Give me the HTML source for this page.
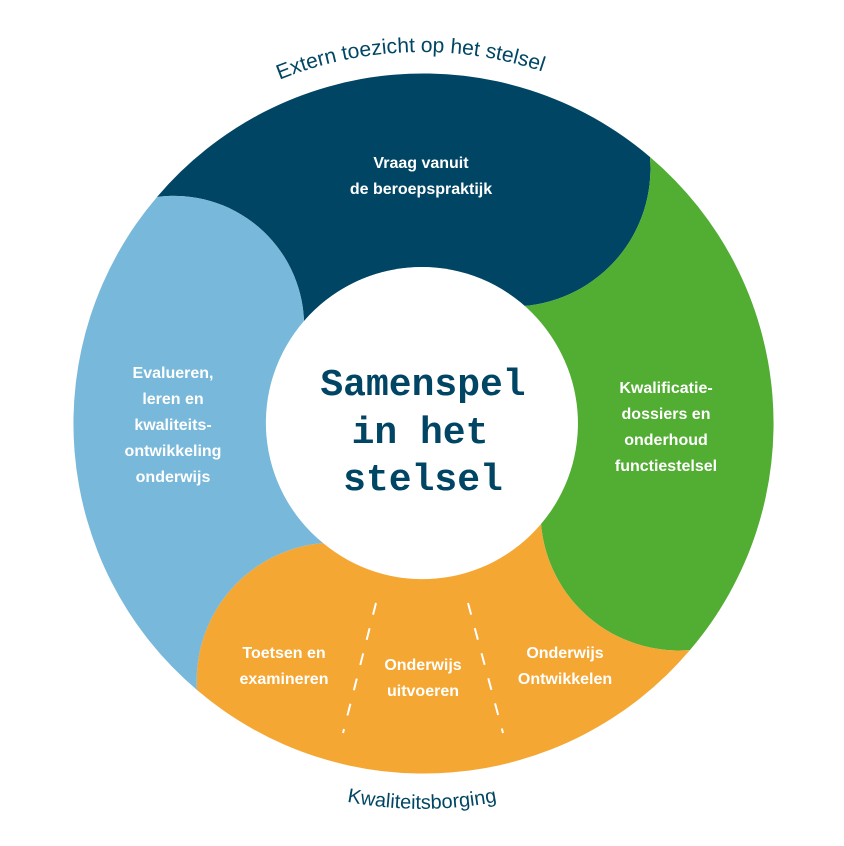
<!DOCTYPE html>
<html><head><meta charset="utf-8"><style>
html,body{margin:0;padding:0;background:#fff;}
svg{display:block;}
.l{font-family:"Liberation Sans",sans-serif;font-weight:bold;font-size:16px;fill:#fff;text-anchor:middle;}
.c{font-family:"Liberation Mono",monospace;font-weight:bold;font-size:38px;fill:#004664;text-anchor:middle;}
.a{font-family:"Liberation Sans",sans-serif;font-size:21px;fill:#004664;}
</style></head><body>
<svg width="844" height="846" viewBox="0 0 844 846" xmlns="http://www.w3.org/2000/svg">
<defs>
<path id="top" d="M 47,422 A 375 370 0 0 1 797,422"/>
<path id="bot" d="M 30,422 A 392 387 0 0 0 814,422"/>
</defs>
<path fill="#004664" d="M157,197 A349 349 0 0 1 650,157 A138 138 0 0 1 524,306 A155 155 0 0 0 304,321 A130 130 0 0 0 157,197 Z"/>
<path fill="#52ad33" d="M650,157 A349 349 0 0 1 690,650 A138 138 0 0 1 541,524 A155 155 0 0 0 524,306 A138 138 0 0 0 650,157 Z"/>
<path fill="#f5a733" d="M690,650 A349 349 0 0 1 197,690 A138 138 0 0 1 323,543 A155 155 0 0 0 541,524 A138 138 0 0 0 690,650 Z"/>
<path fill="#78b8da" d="M197,690 A349 349 0 0 1 157,197 A130 130 0 0 1 304,321 A155 155 0 0 0 323,543 A138 138 0 0 0 197,690 Z"/>
<circle cx="422" cy="422" r="155" fill="#fff"/>
<line x1="376" y1="603" x2="343" y2="733" stroke="#fff" stroke-width="2" stroke-dasharray="12 14"/>
<line x1="468" y1="603" x2="503" y2="733" stroke="#fff" stroke-width="2" stroke-dasharray="12 14"/>
<text class="c" x="423" y="395">Samenspel</text>
<text class="c" x="420" y="443">in het</text>
<text class="c" x="423" y="490">stelsel</text>
<text class="l" x="421" y="168">Vraag vanuit</text>
<text class="l" x="421" y="194">de beroepspraktijk</text>
<text class="l" x="173" y="378">Evalueren,</text>
<text class="l" x="173" y="404">leren en</text>
<text class="l" x="173" y="430">kwaliteits-</text>
<text class="l" x="173" y="456">ontwikkeling</text>
<text class="l" x="173" y="482">onderwijs</text>
<text class="l" x="666" y="393">Kwalificatie-</text>
<text class="l" x="666" y="419">dossiers en</text>
<text class="l" x="666" y="445">onderhoud</text>
<text class="l" x="666" y="471">functiestelsel</text>
<text class="l" x="284" y="658">Toetsen en</text>
<text class="l" x="284" y="684">examineren</text>
<text class="l" x="423" y="670">Onderwijs</text>
<text class="l" x="423" y="696">uitvoeren</text>
<text class="l" x="565" y="658">Onderwijs</text>
<text class="l" x="565" y="684">Ontwikkelen</text>
<text class="a"><textPath href="#top" startOffset="49%" text-anchor="middle">Extern toezicht op het stelsel</textPath></text>
<text class="a" style="font-size:20px"><textPath href="#bot" startOffset="50%" text-anchor="middle">Kwaliteitsborging</textPath></text>
</svg>
</body></html>
